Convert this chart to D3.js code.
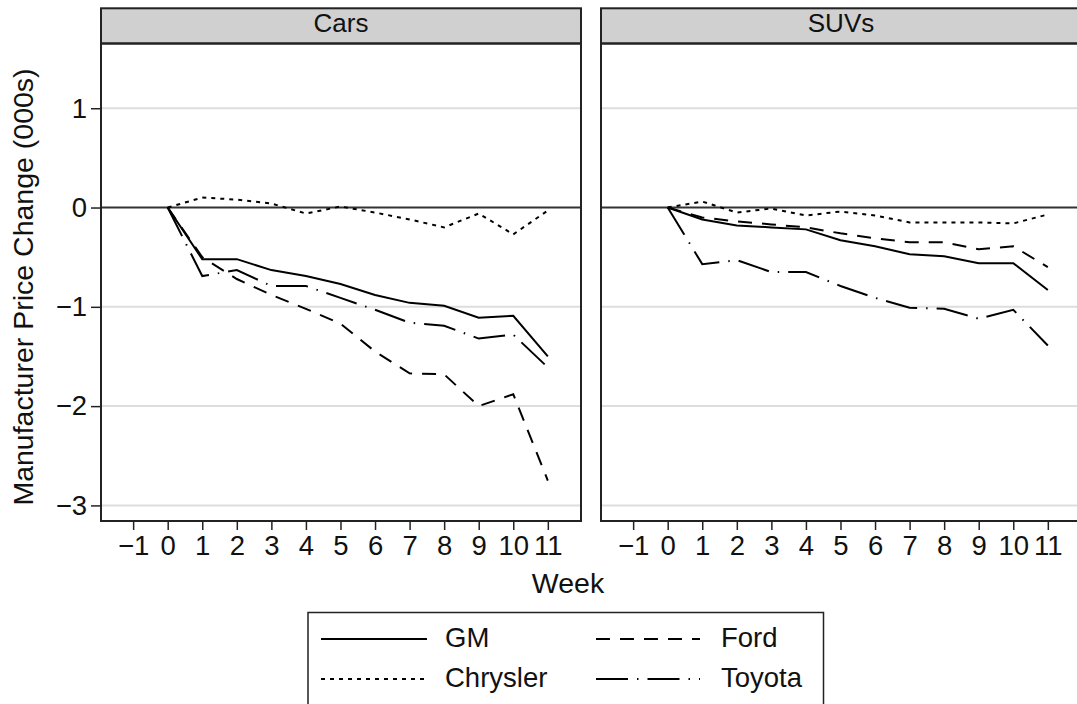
<!DOCTYPE html>
<html>
<head>
<meta charset="utf-8">
<script src="https://cdn.jsdelivr.net/npm/d3@7"></script>
<style>
  html, body { margin: 0; padding: 0; background: #fff; }
  svg { display: block; font-family: "Liberation Sans", Arial, Helvetica, sans-serif; }
</style>
</head>
<body>
<svg id="chart" width="1077" height="704"></svg>
<script>
// ---- data ----
const weeks = [0, 1, 2, 3, 4, 5, 6, 7, 8, 9, 10, 11];
const panels = ["Cars", "SUVs"];
const manufacturers = ["GM", "Ford", "Chrysler", "Toyota"];

const carsGM       = [0, -0.52, -0.52, -0.63, -0.69, -0.77, -0.88, -0.96, -0.99, -1.11, -1.09, -1.50];
const carsFord     = [0, -0.50, -0.72, -0.88, -1.02, -1.17, -1.45, -1.67, -1.68, -2.00, -1.88, -2.75];
const carsChrysler = [0, 0.10, 0.08, 0.04, -0.06, 0.01, -0.05, -0.12, -0.20, -0.06, -0.27, -0.03];
const carsToyota   = [0, -0.69, -0.63, -0.79, -0.79, -0.91, -1.03, -1.16, -1.19, -1.32, -1.28, -1.61];

const suvGM        = [0, -0.12, -0.18, -0.20, -0.22, -0.33, -0.39, -0.47, -0.49, -0.56, -0.56, -0.83];
const suvFord      = [0, -0.10, -0.14, -0.17, -0.20, -0.26, -0.31, -0.35, -0.35, -0.42, -0.39, -0.60];
const suvChrysler  = [0, 0.06, -0.05, -0.01, -0.08, -0.04, -0.08, -0.15, -0.15, -0.15, -0.16, -0.07];
const suvToyota    = [0, -0.57, -0.53, -0.65, -0.65, -0.79, -0.91, -1.01, -1.02, -1.12, -1.03, -1.39];

const xTicks = [-1, 0, 1, 2, 3, 4, 5, 6, 7, 8, 9, 10, 11];
const yTicks = [1, 0, -1, -2, -3];

const seriesByPanel = {
  "Cars": { GM: carsGM, Ford: carsFord, Chrysler: carsChrysler, Toyota: carsToyota },
  "SUVs": { GM: suvGM, Ford: suvFord, Chrysler: suvChrysler, Toyota: suvToyota }
};

// ---- styles ----
const dash = { GM: null, Ford: "14,10", Chrysler: "4,5", Toyota: "32,9,1.5,9" };
const FS = 27.5;      // tick + legend labels
const FS_TITLE = 28.5; // axis titles
const FS_STRIP = 26;   // panel strip labels

const svg = d3.select("#chart");

const panelW = 480, panelTop = 43.5, panelBottom = 521, stripTop = 8.3;
const panelLefts = [101, 601];

const x = d3.scaleLinear().domain([-1.93, 11.96]).range([0, panelW]);
const y = d3.scaleLinear().domain([-3.157, 1.652]).range([panelBottom, panelTop]);

const line = d3.line().x((d, i) => x(weeks[i])).y(d => y(d));
const fmt = d => d < 0 ? "\u2212" + Math.abs(d) : String(d);

panels.forEach((p, pi) => {
  const g = svg.append("g").attr("transform", `translate(${panelLefts[pi]},0)`);

  // gridlines
  g.selectAll("line.grid").data(yTicks.filter(t => t !== 0)).enter().append("line")
    .attr("x1", 0).attr("x2", panelW)
    .attr("y1", d => y(d)).attr("y2", d => y(d))
    .attr("stroke", "#dddddd").attr("stroke-width", 2);

  // zero line
  g.append("line").attr("x1", 0).attr("x2", panelW)
    .attr("y1", y(0)).attr("y2", y(0))
    .attr("stroke", "#333").attr("stroke-width", 2);

  // series
  manufacturers.forEach(m => {
    g.append("path")
      .datum(seriesByPanel[p][m])
      .attr("d", line)
      .attr("fill", "none")
      .attr("stroke", "#000")
      .attr("stroke-width", 2)
      .attr("stroke-dasharray", dash[m]);
  });

  // strip
  g.append("rect").attr("x", 0).attr("y", stripTop).attr("width", panelW).attr("height", panelTop - stripTop)
    .attr("fill", "#d0d0d0").attr("stroke", "#222").attr("stroke-width", 2);
  g.append("text").attr("x", panelW / 2).attr("y", 32)
    .attr("text-anchor", "middle").attr("font-size", FS_STRIP).attr("fill", "#111").text(p);

  // panel border
  g.append("rect").attr("x", 0).attr("y", panelTop).attr("width", panelW).attr("height", panelBottom - panelTop)
    .attr("fill", "none").attr("stroke", "#222").attr("stroke-width", 2);

  // x axis
  const xa = g.append("g").attr("transform", `translate(0,${panelBottom})`)
    .call(d3.axisBottom(x).tickValues(xTicks).tickSize(9).tickPadding(5).tickFormat(fmt));
  xa.select(".domain").remove();
  xa.selectAll(".tick line").attr("stroke", "#222").attr("stroke-width", 1.5);
  xa.selectAll("text").attr("font-size", FS).attr("fill", "#111").attr("font-family", "Liberation Sans, Arial, sans-serif");

  // y axis on left panel only
  if (pi === 0) {
    const ya = g.append("g").call(d3.axisLeft(y).tickValues(yTicks).tickSize(10).tickPadding(4).tickFormat(fmt));
    ya.select(".domain").remove();
    ya.selectAll(".tick line").attr("stroke", "#222").attr("stroke-width", 1.5);
    ya.selectAll("text").attr("font-size", FS).attr("fill", "#111").attr("font-family", "Liberation Sans, Arial, sans-serif");
  }
});

// axis titles
svg.append("text").attr("x", 568).attr("y", 593).attr("text-anchor", "middle")
  .attr("font-size", FS_TITLE).attr("fill", "#111").text("Week");
svg.append("text").attr("transform", "translate(33,287) rotate(-90)").attr("text-anchor", "middle")
  .attr("font-size", FS_TITLE).attr("fill", "#111").text("Manufacturer Price Change (000s)");

// legend
const lg = svg.append("g");
lg.append("rect").attr("x", 308).attr("y", 612.5).attr("width", 515.5).attr("height", 120)
  .attr("fill", "#fff").attr("stroke", "#222").attr("stroke-width", 1.5);
const legendItems = [
  { m: "GM", x1: 321, x2: 427, tx: 445, y: 639 },
  { m: "Ford", x1: 596, x2: 700, tx: 721, y: 639 },
  { m: "Chrysler", x1: 321, x2: 427, tx: 445, y: 679 },
  { m: "Toyota", x1: 596, x2: 700, tx: 721, y: 679 }
];
legendItems.forEach(it => {
  lg.append("line").attr("x1", it.x1).attr("x2", it.x2).attr("y1", it.y).attr("y2", it.y)
    .attr("stroke", "#000").attr("stroke-width", 2.2).attr("stroke-dasharray", dash[it.m]);
  lg.append("text").attr("x", it.tx).attr("y", it.y + 8).attr("font-size", FS).attr("fill", "#111").text(it.m);
});
</script>
</body>
</html>
